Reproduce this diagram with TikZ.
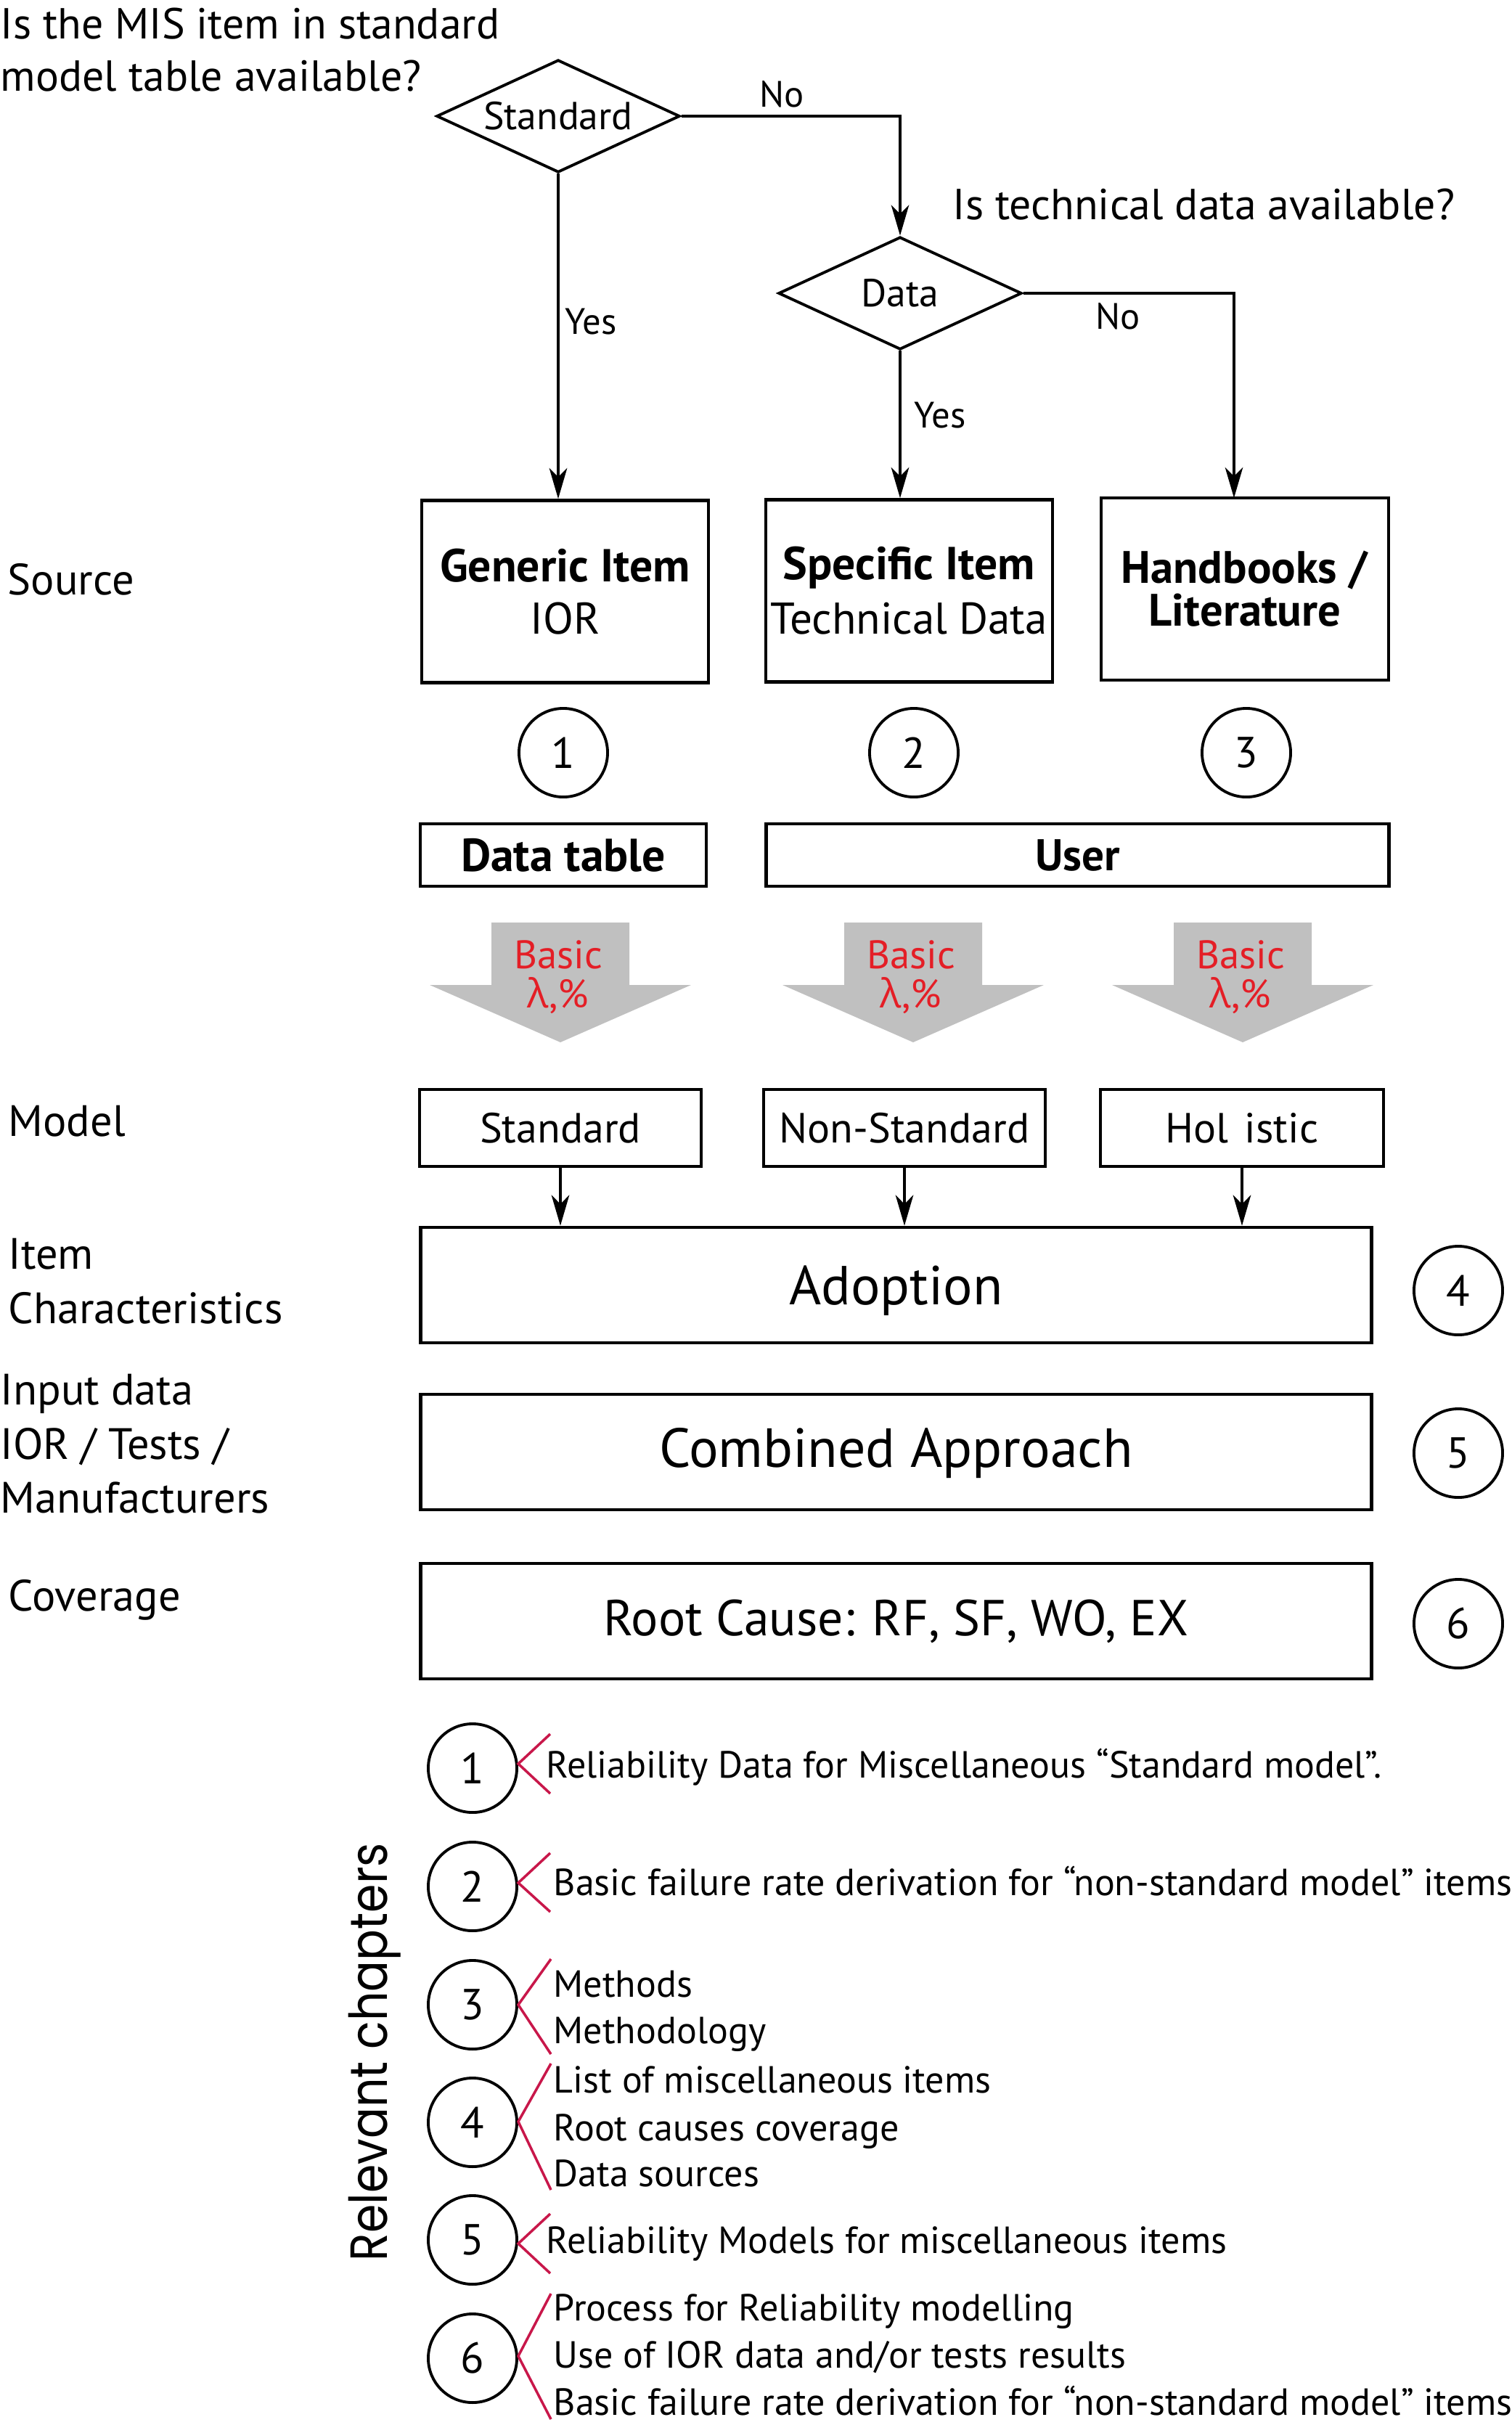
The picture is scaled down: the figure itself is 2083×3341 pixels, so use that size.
\documentclass[tikz,border=0pt]{standalone}
\usepackage{fontspec}
\setmainfont{PT Sans}
\newfontfamily\grk{Open Sans}
\newfontfamily\geo[FakeStretch=0.88]{Poppins}
\usetikzlibrary{arrows.meta,shapes.geometric,calc}
\definecolor{brk}{RGB}{200,23,74}
\definecolor{redtxt}{RGB}{228,30,38}
\definecolor{grayarr}{RGB}{192,192,192}
\begin{document}
\begin{tikzpicture}[x=0.01cm,y=-0.01cm,
  qtext/.style={font=\fontsize{14.4}{17}\selectfont, inner sep=0pt, anchor=base west},
  bigq/.style={font=\fontsize{17}{20}\selectfont, inner sep=0pt, anchor=base west},
  ltext/.style={font=\fontsize{17.2}{20}\selectfont, inner sep=0pt, anchor=base west},
  btext/.style={font=\fontsize{14.8}{17}\selectfont, inner sep=0pt, anchor=base west},
  dia/.style={diamond, draw, line width=1.1pt, inner sep=0pt, aspect=2.16, minimum width=3.35cm, minimum height=1.55cm, font=\fontsize{15.3}{18}\selectfont},
  bx/.style={draw, line width=1.3pt, inner sep=0pt, align=center},
  circ/.style={circle, draw, line width=1.1pt, inner sep=0pt, minimum size=1.22cm, font=\fontsize{17}{20}\selectfont},
  arr/.style={line width=0.9pt, -{Stealth[length=12pt,width=7pt,inset=3.5pt]}},
  brkline/.style={draw=brk, line width=1pt},
  gray arrow/.style={fill=grayarr, draw=none},
  redlbl/.style={text=redtxt, font=\fontsize{15.6}{18}\selectfont, inner sep=0pt, anchor=base}
]
\useasboundingbox (0,0) rectangle (2083,3341);

% ---- top questions ----
\node[bigq] (q1a) at (0,53) {Is the MIS item in standard};
\node[bigq] (q1b) at (0,125) {model table available?};
\node[bigq] (q2) at (1312,302) {Is technical data available?};

\node[dia] (sd) at (769,160) {Standard};
\node[dia] (dd) at (1240,404) {Data};

% ---- source boxes ----
\node[bx, minimum width=3.95cm, minimum height=2.51cm,
      font=\fontsize{17.4}{20.5}\selectfont] (b1) at (778.5,815)
      {{\fontsize{18.1}{20.5}\selectfont\textbf{Generic Item}}\\IOR};
\node[bx, minimum width=3.95cm, minimum height=2.51cm,
      font=\fontsize{17.4}{21.3}\selectfont] (b2) at (1252.5,814)
      {{\fontsize{18.1}{21.3}\selectfont\textbf{Specific Item}}\\Technical Data};
\node[bx, minimum width=3.96cm, minimum height=2.51cm,
      font=\fontsize{17.8}{16.8}\selectfont] (b3) at (1715,811.5)
      {\textbf{Handbooks /}\\\textbf{Literature}};
\coordinate (b3in) at (1700,686);

% connectors top
\draw[arr] (sd.south) -- (sd.south |- b1.north);
\draw[arr] (sd.east) -| (dd.north);
\draw[arr] (dd.south) -- (dd.south |- b2.north);
\draw[arr] (dd.east) -| (b3in);

\node[qtext] (no1) at (1046,147) {No};
\node[qtext] (yes1) at (778,460) {Yes};
\node[qtext] (no2) at (1509,453) {No};
\node[qtext] (yes2) at (1259,589) {Yes};

% ---- numbered circles 1-3 ----
\node[circ] (c1) at (776,1037) {1};
\node[circ] (c2) at (1259,1037) {2};
\node[circ] (c3) at (1717,1037) {3};

% ---- data table / user ----
\node[bx, minimum width=3.94cm, minimum height=0.86cm,
      font=\bfseries\fontsize{18.1}{20}\selectfont] (dt) at (776,1178) {Data table};
\node[bx, minimum width=8.57cm, minimum height=0.86cm,
      font=\bfseries\fontsize{17.4}{20}\selectfont] (us) at (1484.5,1178) {User};

% ---- gray arrows ----
\foreach \cx/\nm in {772/ga1,1258/ga2,1712/ga3}{
  \fill[gray arrow] (\cx-95,1271) -- (\cx+95,1271) -- (\cx+95,1357) -- (\cx+180,1357)
     -- (\cx,1436) -- (\cx-180,1357) -- (\cx-95,1357) -- cycle;
  \node[redlbl] (\nm a) at (\cx-3,1334) {Basic};
  \node[redlbl] (\nm b) at (\cx-3,1388) {{\grk λ},\%};
}

% ---- left labels ----
\node[ltext] (lsource) at (10,819) {Source};
\node[ltext] (lmodel) at (11,1565) {Model};
\node[ltext] (litem) at (11,1748) {Item};
\node[ltext] (lchar) at (11,1823) {Characteristics};
\node[ltext] (linput) at (0,1935) {Input data};
\node[ltext] (lior) at (0,2010) {IOR / Tests /};
\node[ltext] (lmanu) at (0,2084) {Manufacturers};
\node[ltext] (lcov) at (11,2219) {Coverage};

% ---- model row ----
\node[bx, minimum width=3.88cm, minimum height=1.06cm,
      font=\fontsize{16.5}{20}\selectfont] (m1) at (772,1554) {Standard};
\node[bx, minimum width=3.88cm, minimum height=1.06cm,
      font=\fontsize{16.5}{20}\selectfont] (m2) at (1246,1554) {Non-Standard};
\node[bx, minimum width=3.90cm, minimum height=1.06cm,
      font=\fontsize{16.5}{20}\selectfont] (m3) at (1711,1554) {Hol\hspace{0.22cm}istic};

\node[bx, minimum width=13.09cm, minimum height=1.59cm, text height=0.74cm, text depth=0.2cm,
      font=\fontsize{21.5}{24}\selectfont] (ad) at (1234.5,1770.5) {Adoption};
\node[bx, minimum width=13.09cm, minimum height=1.59cm, text height=0.62cm, text depth=0.2cm,
      font=\fontsize{21.6}{24}\selectfont] (ca) at (1234.5,2000.5) {Combined Approach};
\node[bx, minimum width=13.09cm, minimum height=1.59cm,
      font=\fontsize{19.8}{24}\selectfont] (rc) at (1234.5,2233.5) {Root Cause: RF, SF, WO, EX};

\draw[arr] (m1.south) -- (m1.south |- ad.north);
\draw[arr] (m2.south) -- (m2.south |- ad.north);
\draw[arr] (m3.south) -- (m3.south |- ad.north);

\node[circ] (c4) at (2009,1778) {4};
\node[circ] (c5) at (2009,2002) {5};
\node[circ] (c6) at (2009,2237) {6};

% ---- relevant chapters ----
\node[rotate=90, anchor=base, inner sep=0pt, font=\geo\fontsize{20.5}{24}\selectfont] (rel) at (533,2827) {Relevant chapters};

\node[circ] (r1) at (651,2436) {1};
\node[circ] (r2) at (651,2599) {2};
\node[circ] (r3) at (651,2762) {3};
\node[circ] (r4) at (651,2924) {4};
\node[circ] (r5) at (651,3086) {5};
\node[circ] (r6) at (651,3249) {6};

\draw[brkline] (758,2389) -- (714,2430) -- (758,2471);
\draw[brkline] (758,2553) -- (714,2594) -- (758,2634);
\draw[brkline] (759,2699) -- (714,2762) -- (759,2830);
\draw[brkline] (759,2843) -- (714,2923) -- (759,3017);
\draw[brkline] (758,3050) -- (714,3091) -- (758,3132);
\draw[brkline] (759,3160) -- (714,3246) -- (759,3333);

\node[btext] (t1) at (752,2449) {Reliability Data for Miscellaneous “Standard model”.};
\node[btext] (t2) at (762,2611) {Basic failure rate derivation for “non-standard model” items};
\node[btext] (t3a) at (762,2751) {Methods};
\node[btext] (t3b) at (762,2815) {Methodology};
\node[btext] (t4a) at (762,2883) {List of miscellaneous items};
\node[btext] (t4b) at (762,2949) {Root causes coverage};
\node[btext] (t4c) at (762,3012) {Data sources};
\node[btext] (t5) at (752,3104) {Reliability Models for miscellaneous items};
\node[btext] (t6a) at (762,3197) {Process for Reliability modelling};
\node[btext] (t6b) at (762,3262) {Use of IOR data and/or tests results};
\node[btext] (t6c) at (762,3327) {Basic failure rate derivation for “non-standard model” items};
\end{tikzpicture}
\end{document}
